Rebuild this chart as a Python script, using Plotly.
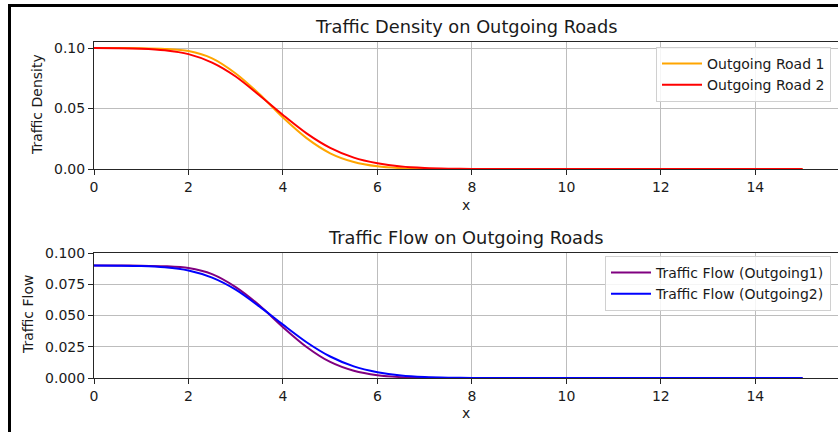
import plotly.graph_objects as go

# ---- data ----
x = [0.0, 0.5, 1.0, 1.5, 2.0, 2.5, 3.0, 3.5, 4.0, 4.5, 5.0, 5.5, 6.0, 6.5, 7.0, 7.5,
     8.0, 8.5, 9.0, 9.5, 10.0, 10.5, 11.0, 11.5, 12.0, 12.5, 13.0, 13.5, 14.0, 14.5, 15.0]

density_road1 = [0.1000, 0.1000, 0.0999, 0.0993, 0.0975, 0.0915, 0.0790, 0.0620, 0.0425,
                 0.0255, 0.0130, 0.0058, 0.0022, 0.0007, 0.0002, 0.0000,
                 0.0, 0.0, 0.0, 0.0, 0.0, 0.0, 0.0, 0.0, 0.0, 0.0, 0.0, 0.0, 0.0, 0.0, 0.0]
density_road2 = [0.1000, 0.0999, 0.0995, 0.0982, 0.0950, 0.0880, 0.0765, 0.0610, 0.0447,
                 0.0295, 0.0175, 0.0094, 0.0047, 0.0020, 0.0008, 0.0003,
                 0.0001, 0.0, 0.0, 0.0, 0.0, 0.0, 0.0, 0.0, 0.0, 0.0, 0.0, 0.0, 0.0, 0.0, 0.0]

flow_out1 = [0.09000, 0.09000, 0.08990, 0.08944, 0.08799, 0.08313, 0.07276, 0.05816, 0.04069,
             0.02485, 0.01283, 0.00577, 0.00220, 0.00070, 0.00020, 0.00000,
             0.0, 0.0, 0.0, 0.0, 0.0, 0.0, 0.0, 0.0, 0.0, 0.0, 0.0, 0.0, 0.0, 0.0, 0.0]
flow_out2 = [0.09000, 0.08990, 0.08960, 0.08856, 0.08598, 0.08026, 0.07065, 0.05728, 0.04270,
             0.02863, 0.01719, 0.00931, 0.00468, 0.00200, 0.00080, 0.00030,
             0.00010, 0.0, 0.0, 0.0, 0.0, 0.0, 0.0, 0.0, 0.0, 0.0, 0.0, 0.0, 0.0, 0.0, 0.0]

x_ticks = [0, 2, 4, 6, 8, 10, 12, 14]
density_ticks = [0.0, 0.05, 0.10]
flow_ticks = [0.0, 0.025, 0.05, 0.075, 0.1]

top_title = "Traffic Density on Outgoing Roads"
bottom_title = "Traffic Flow on Outgoing Roads"

# ---- figure ----
FONT = "DejaVu Sans"
TXT = "#1a1a1a"
fig = go.Figure()

line_kw = dict(mode="lines", line_shape="spline")
fig.add_trace(go.Scatter(x=x, y=density_road1, name="Outgoing Road 1",
                         line=dict(color="#FFA500", width=2, smoothing=0.8), xaxis="x", yaxis="y",
                         legend="legend", **line_kw))
fig.add_trace(go.Scatter(x=x, y=density_road2, name="Outgoing Road 2",
                         line=dict(color="#FF0000", width=2, smoothing=0.8), xaxis="x", yaxis="y",
                         legend="legend", **line_kw))
fig.add_trace(go.Scatter(x=x, y=flow_out1, name="Traffic Flow (Outgoing1)",
                         line=dict(color="#800080", width=2, smoothing=0.8), xaxis="x2", yaxis="y2",
                         legend="legend2", **line_kw))
fig.add_trace(go.Scatter(x=x, y=flow_out2, name="Traffic Flow (Outgoing2)",
                         line=dict(color="#0000FF", width=2, smoothing=0.8), xaxis="x2", yaxis="y2",
                         legend="legend2", **line_kw))

L, R, T, B = 94, 0, 42, 54
W, H = 838, 432
plot_w = W - L - R
plot_h = H - T - B


def fx(px):
    return (px - L) / plot_w


def fy(py):
    return (H - B - py) / plot_h


axis_common = dict(
    showgrid=True, gridcolor="#bdbdbd", gridwidth=1,
    showline=True, linecolor="#262626", linewidth=1,
    ticks="outside", ticklen=5, tickcolor="#262626", tickwidth=1,
    tickfont=dict(family=FONT, size=14, color=TXT),
    zeroline=False, fixedrange=True,
)

legend_common = dict(xanchor="right", yanchor="top", itemwidth=40,
                     bgcolor="rgba(255,255,255,0.85)", bordercolor="#d0d0d0", borderwidth=1,
                     font=dict(family=FONT, size=14, color=TXT), tracegroupgap=0)

fig.update_layout(
    width=W, height=H,
    margin=dict(l=L, r=R, t=T, b=B),
    paper_bgcolor="white", plot_bgcolor="white",
    font=dict(family=FONT, size=14, color=TXT),
    xaxis=dict(domain=[0, 1], range=[0, 15.75], tickvals=x_ticks, anchor="y",
               mirror=True, **axis_common),
    yaxis=dict(domain=[fy(169), 1], range=[0, 0.105], tickvals=density_ticks,
               tickformat=".2f", anchor="x", **axis_common),
    xaxis2=dict(domain=[0, 1], range=[0, 15.75], tickvals=x_ticks, anchor="y2",
                mirror=True, **axis_common),
    yaxis2=dict(domain=[0, fy(253)], range=[0, 0.1], tickvals=flow_ticks,
                tickformat=".3f", anchor="x2", **axis_common),
    legend=dict(x=fx(831), y=fy(47), **legend_common),
    legend2=dict(x=fx(831), y=fy(256), **legend_common),
    showlegend=True,
)

ann_font = dict(family=FONT, size=14, color=TXT)
title_font = dict(family=FONT, size=17.8, color=TXT)
fig.add_annotation(text=top_title, x=fx(466), y=fy(27), xref="paper", yref="paper",
                   showarrow=False, font=title_font, xanchor="center", yanchor="middle")
fig.add_annotation(text=bottom_title, x=fx(466), y=fy(238), xref="paper", yref="paper",
                   showarrow=False, font=title_font, xanchor="center", yanchor="middle")
fig.add_annotation(text="x", x=fx(466), y=fy(205), xref="paper", yref="paper",
                   showarrow=False, font=ann_font, xanchor="center", yanchor="middle")
fig.add_annotation(text="x", x=fx(466), y=fy(413), xref="paper", yref="paper",
                   showarrow=False, font=ann_font, xanchor="center", yanchor="middle")
fig.add_annotation(text="Traffic Density", x=fx(37), y=fy(105), xref="paper", yref="paper",
                   showarrow=False, font=ann_font, textangle=-90,
                   xanchor="center", yanchor="middle")
fig.add_annotation(text="Traffic Flow", x=fx(28), y=fy(315), xref="paper", yref="paper",
                   showarrow=False, font=ann_font, textangle=-90,
                   xanchor="center", yanchor="middle")

# outer black frame (left and top edges visible in the reference)
fig.add_shape(type="line", xref="paper", yref="paper",
              x0=fx(9.5), x1=fx(9.5), y0=fy(5.5), y1=fy(440),
              line=dict(color="black", width=3))
fig.add_shape(type="line", xref="paper", yref="paper",
              x0=fx(8), x1=fx(845), y0=fy(5.5), y1=fy(5.5),
              line=dict(color="black", width=3))

# remove the browser's default 8px body margin so the figure sits at the window origin
fig.write_html("out.html",
               config={"displayModeBar": False},
               post_script="document.body.style.margin='0';document.body.style.overflow='hidden';")
